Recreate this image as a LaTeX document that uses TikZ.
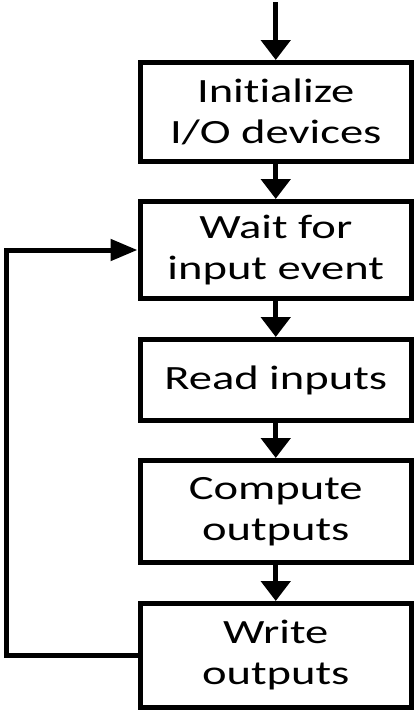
\documentclass[tikz,border=0pt]{standalone}
\usepackage{fontspec}
\newfontfamily\flowfont[FakeStretch=1.37,Ligatures=NoCommon]{Carlito}
\usetikzlibrary{arrows.meta}
\tikzset{
  stepbox/.style={draw, line width=5pt, inner sep=0pt, minimum width=271.5pt,
    align=center, font=\flowfont\fontsize{34pt}{41pt}\selectfont},
  flow/.style={line width=5pt, -{Triangle[length=20pt,width=29pt]}},
  back/.style={line width=5pt, line join=miter, -{Triangle[length=27pt,width=21pt]}}
}
\begin{document}
\begin{tikzpicture}[x=1pt,y=-1pt]
  \useasboundingbox (0,0) rectangle (415,710);
  \node[stepbox, minimum height=99pt]  (init)    at (275.75,112)   {Initialize\\I/O devices};
  \node[stepbox, minimum height=97pt]  (wait)    at (275.75,250)   {Wait for\\input event};
  \node[stepbox, minimum height=81pt]  (read)    at (275.75,380)   {Read inputs};
  \node[stepbox, minimum height=102pt] (compute) at (275.75,511.5) {Compute\\outputs};
  \node[stepbox, minimum height=104pt] (write)   at (275.75,655.5) {Write\\outputs};
  \coordinate (start) at (275.75,2);
  \coordinate (loop) at (6,655.5);
  \draw[flow] (start) -- (init.north);
  \draw[flow] (init) -- (wait);
  \draw[flow] (wait) -- (read);
  \draw[flow] (read) -- (compute);
  \draw[flow] (compute) -- (write);
  \draw[back] (write.west) -- (loop) |- (wait.west);
\end{tikzpicture}
\end{document}
